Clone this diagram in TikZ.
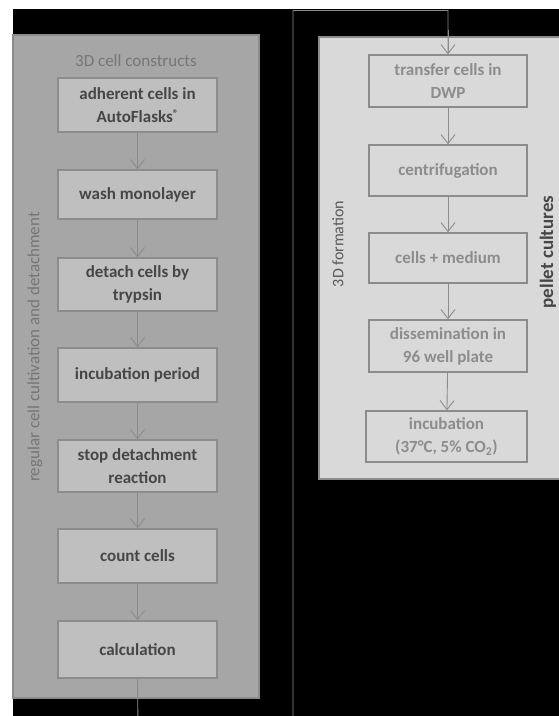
\documentclass[tikz,border=0pt]{standalone}
\usepackage{fontspec}
\setmainfont{Carlito}
\usetikzlibrary{arrows.meta}
\definecolor{lpanel}{HTML}{A6A6A6}
\definecolor{lbox}{HTML}{BFBFBF}
\definecolor{rpanel}{HTML}{D9D9D9}
\definecolor{edge}{HTML}{8C8C8C}
\definecolor{ltext}{HTML}{464646}
\definecolor{rtext}{HTML}{8C8C8C}
\definecolor{stext}{HTML}{767676}
\definecolor{ftext}{HTML}{595959}
\tikzset{
  panel/.style={draw=edge, line width=1.5pt},
  lstep/.style={draw=edge, line width=1.5pt, fill=lbox, minimum width=159pt, align=center,
     text=ltext, font=\fontsize{17}{23}\selectfont\bfseries, inner sep=0pt},
  rstep/.style={draw=edge, line width=1.5pt, fill=rpanel, minimum width=158pt, align=center,
     text=rtext, font=\fontsize{17}{23}\selectfont\bfseries, inner sep=0pt},
  flow/.style={draw=edge, line width=0.9pt, -{Straight Barb[length=9pt,width=14pt,line width=0.9pt]}},
  link/.style={draw=edge, line width=0.9pt},
}
\begin{document}
\begin{tikzpicture}[x=1pt,y=-1pt]
\useasboundingbox (0,0) rectangle (559,716);
\fill[white] (0,0) rectangle (559,716);
\fill[black] (13,9) rectangle (559,716);
% panels
\node[panel, fill=lpanel, minimum width=246pt, minimum height=663pt, inner sep=0pt] (lp) at (136,366.5) {};
\node[panel, fill=rpanel, minimum width=260pt, minimum height=442pt, inner sep=0pt] (rp) at (449,258) {};
% left panel
\node[text=stext, font=\fontsize{17}{20}\selectfont] (ltitle) at (136,61) {3D cell constructs};
\node[rotate=90, text=stext, font=\fontsize{17}{20}\selectfont] (lside) at (35,347) {regular cell cultivation and detachment};
\node[lstep, minimum height=54pt] (a1) at (137.5,105) {adherent cells in\\AutoFlasks{\fontsize{11}{11}\selectfont\raisebox{5pt}{®}}};
\node[lstep, minimum height=49pt] (a2) at (137.5,194.5) {wash monolayer};
\node[lstep, minimum height=53pt] (a3) at (137.5,284.5) {detach cells by\\trypsin};
\node[lstep, minimum height=54pt] (a4) at (137.5,375) {incubation period};
\node[lstep, minimum height=52pt] (a5) at (137.5,466) {stop detachment\\reaction};
\node[lstep, minimum height=54pt] (a6) at (137.5,556) {count cells};
\node[lstep, minimum height=57pt] (a7) at (137.5,649.5) {calculation};
\draw[flow] (a1) -- (a2);
\draw[flow] (a2) -- (a3);
\draw[flow] (a3) -- (a4);
\draw[flow] (a4) -- (a5);
\draw[flow] (a5) -- (a6);
\draw[flow] (a6) -- (a7);
% right panel
\node[rotate=90, text=ftext, font=\fontsize{16}{19}\selectfont] (rside) at (338,244) {3D formation};
\node[rotate=90, text=ltext, font=\fontsize{19}{22}\selectfont\bfseries] (rside2) at (548,252) {pellet cultures};
\node[rstep, minimum height=52pt] (b1) at (448,81) {transfer cells in\\DWP};
\node[rstep, minimum height=51pt] (b2) at (448,170.5) {centrifugation};
\node[rstep, minimum height=50pt] (b3) at (448,258) {cells + medium};
\node[rstep, minimum height=52pt] (b4) at (448,346) {dissemination in\\96 well plate};
\node[rstep, minimum height=51pt, minimum width=161pt] (b5) at (446.5,436.5) {incubation\\(37°C, 5\% CO\textsubscript{2})};
\draw[flow] (b1) -- (b2);
\draw[flow] (b2) -- (b3);
\draw[flow] (b3) -- (b4);
\draw[flow] (b4) -- (b5);
% connection between panels
\coordinate (c1) at (138,730);
\coordinate (c2) at (293,730);
\coordinate (c3) at (293,10.5);
\begin{scope}
\clip (0,0) rectangle (559,716);
\draw[link] (a7.south) -- (c1) -- (c2) -- (c3) -| (b1.north);
\draw[flow] (448,30) -- (b1.north);
\end{scope}
\end{tikzpicture}
\end{document}
